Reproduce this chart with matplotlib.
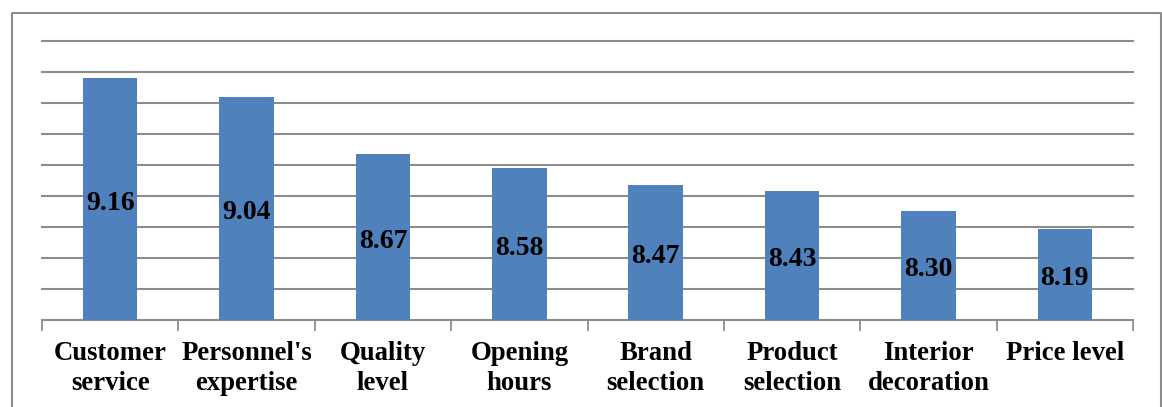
import numpy as np
import matplotlib
matplotlib.use("Agg")
from matplotlib import pyplot as plt
from matplotlib.lines import Line2D

categories = ["Customer\nservice", "Personnel's\nexpertise", "Quality\nlevel", "Opening\nhours",
              "Brand\nselection", "Product\nselection", "Interior\ndecoration", "Price level\n"]
scores = [9.16, 9.04, 8.67, 8.58, 8.47, 8.43, 8.30, 8.19]
score_labels = ["9.16", "9.04", "8.67", "8.58", "8.47", "8.43", "8.30", "8.19"]

plt.rcParams['font.family'] = ['Liberation Serif', 'DejaVu Serif']

fig = plt.figure(figsize=(11.62, 4.07), dpi=100)
ax = fig.add_axes([42 / 1162, 1 - 320 / 407, (1133 - 42) / 1162, (320 - 41) / 407])

x = np.arange(len(scores))
ymin = 7.6
bars = ax.bar(x, np.array(scores) - ymin, bottom=ymin, width=0.4, color='#4F81BD', zorder=3)

# value labels sit in the middle of each bar
for b, lab in zip(bars, score_labels):
    ax.annotate(lab, (b.get_x() + b.get_width() / 2, ymin + b.get_height() / 2),
                xytext=(0, -3), textcoords='offset points',
                ha='center', va='center', fontsize=20, fontweight='bold', zorder=4)

ax.set_xlim(-0.5, len(scores) - 0.5)
ax.set_ylim(ymin, 9.4)
ax.set_yticks(np.arange(7.8, 9.41, 0.2))
ax.yaxis.grid(True, color='#8c8c8c', linewidth=1.5, zorder=0)
for gl in ax.get_ygridlines():
    gl.set_clip_on(False)
ax.tick_params(axis='y', left=False, labelleft=False)

# category labels centred, ticks between categories
ax.set_xticks(x)
ax.set_xticklabels(categories, fontsize=19.3, fontweight='bold', linespacing=1.27)
ax.tick_params(axis='x', length=0, pad=15)
ax.set_xticks(np.arange(-0.5, len(scores)), minor=True)
ax.tick_params(axis='x', which='minor', length=8, width=1.3, color='#8c8c8c')

for s in ['left', 'right', 'top']:
    ax.spines[s].set_visible(False)
ax.spines['bottom'].set_color('#8c8c8c')
ax.spines['bottom'].set_linewidth(1.5)

# outer chart border (bottom edge is cut off)
W, H = 1162, 407
bx0, bx1, by = 12 / W, 1161 / W, 1 - 13 / H
fig.add_artist(Line2D([bx0, bx0, bx1, bx1], [0, by, by, 0], color='#8c8c8c', linewidth=1.5,
                      transform=fig.transFigure))

plt.savefig('out.png', dpi=100)
